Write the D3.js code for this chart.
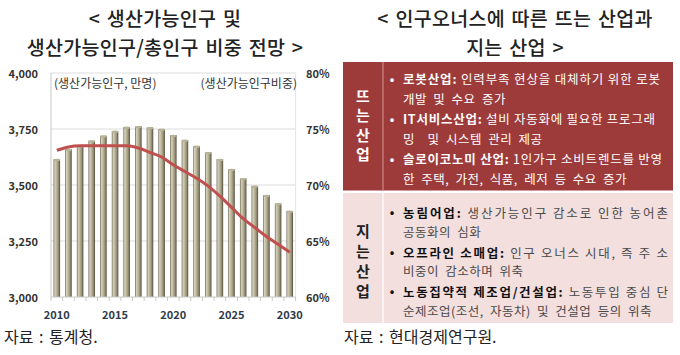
<!DOCTYPE html>
<html><head><meta charset="utf-8">
<script src="https://cdn.jsdelivr.net/npm/d3@7"></script>
<style>
html,body{margin:0;padding:0;background:#fff;}
svg{display:block;font-family:"Noto Sans CJK KR","Noto Sans",sans-serif;}
</style></head>
<body>
<svg id="c" width="680" height="355"></svg>
<script>
// ---- data ----
const years = [2010,2011,2012,2013,2014,2015,2016,2017,2018,2019,2020,2021,2022,2023,2024,2025,2026,2027,2028,2029,2030];
const workingPop = [3615,3660,3676,3698,3720,3741,3759,3762,3757,3750,3723,3701,3674,3646,3615,3571,3530,3496,3455,3418,3384];
const workingShare = [73.1,73.4,73.5,73.5,73.5,73.5,73.5,73.3,72.9,72.5,71.8,71.2,70.6,69.9,69.0,68.0,67.0,66.2,65.4,64.7,64.0];
const leftTicks = [3000,3250,3500,3750,4000];
const rightTicks = [60,65,70,75,80];
const xTickLabels = [2010,2015,2020,2025,2030];
const leftTitle = ["< 생산가능인구 및","생산가능인구/총인구 비중 전망 >"];
const rightTitle = ["< 인구오너스에 따른 뜨는 산업과","지는 산업 >"];
const leftUnit = "(생산가능인구, 만명)";
const rightUnit = "(생산가능인구비중)";
const leftSource = "자료 : 통계청.";
const rightSource = "자료 : 현대경제연구원.";
const risingLabel = ["뜨","는","산","업"];
const fallingLabel = ["지","는","산","업"];
const risingItems = [
  {bold:"로봇산업:", text:" 인력부족 현상을 대체하기 위한 로봇", cont:"개발 및 수요 증가"},
  {bold:"IT서비스산업:", text:" 설비 자동화에 필요한 프로그래", cont:"밍  및 시스템 관리 제공"},
  {bold:"슬로이코노미 산업:", text:" 1인가구 소비트렌드를 반영", cont:"한 주택, 가전, 식품, 레저 등 수요 증가"}
];
const fallingItems = [
  {bold:"농림어업:", text:" 생산가능인구 감소로 인한 농어촌", cont:"공동화의 심화"},
  {bold:"오프라인 소매업:", text:" 인구 오너스 시대, 즉 주 소", cont:"비중이 감소하며 위축"},
  {bold:"노동집약적 제조업/건설업:", text:" 노동투입 중심 단", cont:"순제조업(조선, 자동차) 및 건설업 등의 위축"}
];

const svg = d3.select("#c");

// ---- titles ----
function title(lines, cx){
  lines.forEach((t,i)=>{
    svg.append("text").attr("x",cx).attr("y",17+i*29).attr("text-anchor","middle")
      .attr("dominant-baseline","central").attr("font-size",19.5).attr("font-weight",500)
      .attr("letter-spacing",0.3).attr("word-spacing",2).attr("fill","#222").attr("xml:space","preserve").text(t);
  });
}
title(leftTitle,165);
title(rightTitle,515);

// ---- chart ----
const plot = {l:51, r:295.6, t:73, b:297};
const x = d3.scaleBand().domain(years).range([plot.l,plot.r]).paddingInner(0.44).paddingOuter(0.22);
const yL = d3.scaleLinear().domain([3000,4000]).range([plot.b,plot.t]);
const yR = d3.scaleLinear().domain([60,80]).range([plot.b,plot.t]);

const defs = svg.append("defs");
const g = defs.append("linearGradient").attr("id","barg").attr("x1","0").attr("x2","1").attr("y1","0").attr("y2","0");
[["0%","#5c5845"],["18%","#d6d1bb"],["40%","#c2bca2"],["75%","#948e74"],["100%","#4e4a3a"]]
  .forEach(s=>g.append("stop").attr("offset",s[0]).attr("stop-color",s[1]));

// gridlines
svg.append("g").selectAll("line").data(leftTicks.filter(d=>d>3000)).join("line")
  .attr("x1",plot.l).attr("x2",plot.r).attr("y1",d=>yL(d)).attr("y2",d=>yL(d))
  .attr("stroke","#dcdcdc").attr("stroke-width",1);
svg.append("line").attr("x1",plot.r).attr("x2",plot.r).attr("y1",plot.t).attr("y2",plot.b).attr("stroke","#e4e4e4");
svg.append("line").attr("x1",plot.l).attr("x2",plot.l).attr("y1",plot.t).attr("y2",plot.b).attr("stroke","#c8c8c8");

// bars
svg.append("g").selectAll("rect").data(years).join("rect")
  .attr("x",d=>x(d)).attr("width",x.bandwidth())
  .attr("y",(d,i)=>yL(workingPop[i])).attr("height",(d,i)=>plot.b-yL(workingPop[i]))
  .attr("fill","url(#barg)");
svg.append("g").selectAll("ellipse").data(years).join("ellipse")
  .attr("cx",d=>x(d)+x.bandwidth()/2).attr("cy",(d,i)=>yL(workingPop[i])+0.8)
  .attr("rx",x.bandwidth()/2).attr("ry",1.2).attr("fill","#b9b398");

// baseline + ticks
svg.append("line").attr("x1",plot.l).attr("x2",plot.r).attr("y1",plot.b).attr("y2",plot.b).attr("stroke","#c8c8c8");
const bounds = d3.range(years.length+1).map(i=>plot.l + i*(plot.r-plot.l)/years.length);
svg.append("g").selectAll("line").data(bounds).join("line")
  .attr("x1",d=>d).attr("x2",d=>d).attr("y1",plot.b).attr("y2",plot.b+4).attr("stroke","#c8c8c8");

// line
const line = d3.line().x((d,i)=>x(years[i])+x.bandwidth()/2).y(d=>yR(d)).curve(d3.curveMonotoneX);
svg.append("path").datum(workingShare).attr("d",line).attr("fill","none")
  .attr("stroke","#c0504d").attr("stroke-width",3).attr("stroke-linejoin","round");

// axis labels
svg.append("g").selectAll("text").data(leftTicks).join("text")
  .attr("x",38).attr("y",d=>yL(d)).attr("text-anchor","end").attr("dominant-baseline","central")
  .attr("font-size",11).attr("font-weight","bold").attr("fill","#333").text(d3.format(","));
svg.append("g").selectAll("text").data(rightTicks).join("text")
  .attr("x",306).attr("y",d=>yR(d)).attr("text-anchor","start").attr("dominant-baseline","central")
  .attr("font-size",11).attr("font-weight","bold").attr("fill","#333").text(d=>d+"%");
svg.append("g").selectAll("text").data(xTickLabels).join("text")
  .attr("x",d=>x(d)+x.bandwidth()/2).attr("y",314).attr("text-anchor","middle").attr("dominant-baseline","central")
  .attr("font-size",11).attr("font-weight","bold").attr("fill","#2e3a4a").text(d=>d);

svg.append("text").attr("x",54).attr("y",82).attr("dominant-baseline","central").attr("font-size",12).attr("fill","#333").text(leftUnit);
svg.append("text").attr("x",297).attr("y",82).attr("text-anchor","end").attr("dominant-baseline","central").attr("font-size",12).attr("fill","#333").text(rightUnit);

svg.append("text").attr("x",4).attr("y",336).attr("dominant-baseline","central").attr("font-size",16).attr("word-spacing",2).attr("fill","#222").text(leftSource);
svg.append("text").attr("x",344).attr("y",336).attr("dominant-baseline","central").attr("font-size",16).attr("word-spacing",2).attr("fill","#222").text(rightSource);

// ---- table ----
const tb = {l:343, r:673, div:383};
const sections = [
  {top:62, bot:190.5, fill:"#9d3b3a", divc:"#c98a88", label:risingLabel, labelY:95, labelStep:19.5, labelColor:"#fff",
   items:risingItems, lines:[78,98,118,138,158,178], bcol:"#fff", tcol:"#fff", widths:[257,252,259]},
  {top:193, bot:323, fill:"#f2dfde", divc:"#ffffff", label:fallingLabel, labelY:230, labelStep:20, labelColor:"#222",
   items:fallingItems, lines:[211.5,231,251.5,270.5,290.5,310.5], bcol:"#111", tcol:"#4a4a4a", widths:[265,265,265]}
];
sections.forEach(s=>{
  svg.append("rect").attr("x",tb.l).attr("y",s.top).attr("width",tb.r-tb.l).attr("height",s.bot-s.top).attr("fill",s.fill);
  svg.append("line").attr("x1",tb.div).attr("x2",tb.div).attr("y1",s.top).attr("y2",s.bot).attr("stroke",s.divc).attr("stroke-width",1.2);
  s.label.forEach((c,i)=>svg.append("text").attr("x",(tb.l+tb.div)/2).attr("y",s.labelY+i*s.labelStep)
    .attr("text-anchor","middle").attr("dominant-baseline","central")
    .attr("font-size",15).attr("font-weight","bold").attr("fill",s.labelColor).text(c));
  s.items.forEach((it,i)=>{
    const y1 = s.lines[i*2], y2 = s.lines[i*2+1];
    svg.append("text").attr("x",392).attr("y",y1).attr("text-anchor","middle").attr("dominant-baseline","central")
      .attr("font-size",12).attr("font-weight","bold").attr("fill",s.bcol).text("•");
    const t = svg.append("text").attr("x",403).attr("y",y1).attr("dominant-baseline","central").attr("font-size",12.5)
      .attr("textLength",s.widths[i]).attr("lengthAdjust","spacing");
    t.append("tspan").attr("font-weight","bold").attr("fill",s.bcol).text(it.bold);
    t.append("tspan").attr("fill",s.tcol).text(it.text);
    svg.append("text").attr("x",403).attr("y",y2).attr("dominant-baseline","central").attr("font-size",12.5)
      .attr("word-spacing",3).attr("letter-spacing",0.5)
      .attr("fill",s.tcol).attr("xml:space","preserve").text(it.cont);
  });
});
</script>
</body></html>
